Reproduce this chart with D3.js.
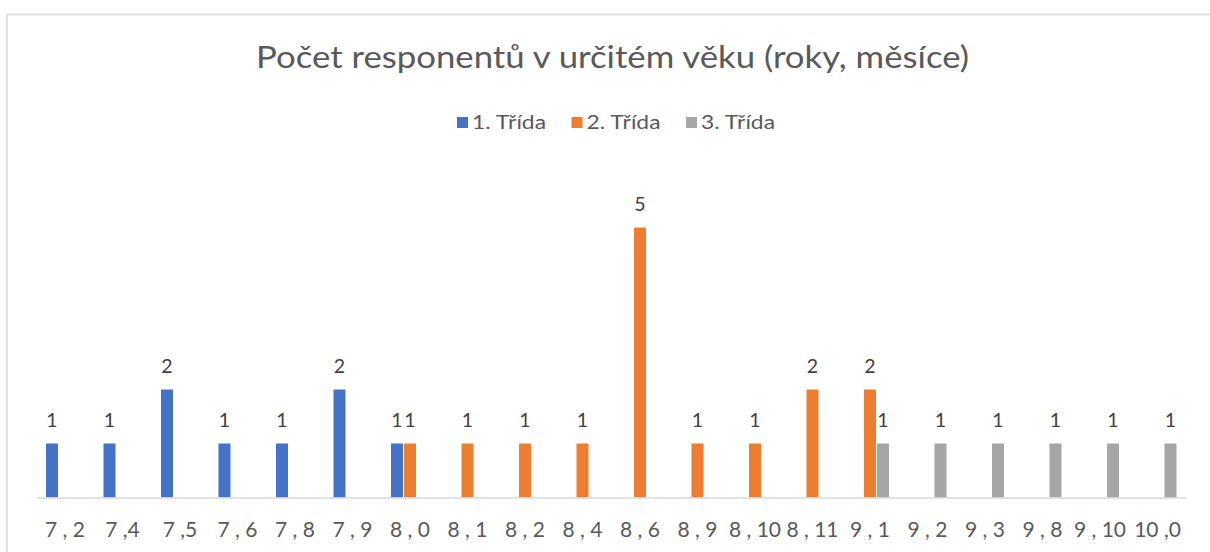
<!DOCTYPE html>
<html>
<head>
<meta charset="utf-8">
<script src="https://cdn.jsdelivr.net/npm/d3@7"></script>
<style>
  html, body { margin: 0; padding: 0; background: #fff; }
  svg { display: block; }
  text { font-family: Lato, "Open Sans", sans-serif; }
</style>
</head>
<body>
<svg id="chart" width="1210" height="552"></svg>
<script>
const title = "Počet responentů v určitém věku (roky, měsíce)";
const categories = ["7 , 2", "7 ,4", "7 ,5", "7 , 6", "7 , 8", "7 , 9", "8 , 0", "8 , 1", "8 , 2", "8 , 4",
                    "8 , 6", "8 , 9", "8 , 10", "8 , 11", "9 , 1", "9 , 2", "9 , 3", "9 , 8", "9 , 10", "10 ,0"];
const seriesNames = ["1. Třída", "2. Třída", "3. Třída"];
const seriesColors = ["#4472C4", "#ED7D31", "#A5A5A5"];
const trida1 = [1, 1, 2, 1, 1, 2, 1, null, null, null, null, null, null, null, null, null, null, null, null, null];
const trida2 = [null, null, null, null, null, null, 1, 1, 1, 1, 5, 1, 1, 2, 2, null, null, null, null, null];
const trida3 = [null, null, null, null, null, null, null, null, null, null, null, null, null, null, 1, 1, 1, 1, 1, 1];
const yDomain = [0, 6];

const seriesValues = [trida1, trida2, trida3];

const svg = d3.select("#chart");

// chart border
svg.append("rect")
  .attr("x", 7).attr("y", 14.5).attr("width", 1400).attr("height", 700)
  .attr("fill", "#fff").attr("stroke", "#d9d9d9").attr("stroke-width", 1.5);

function fit(sel, target) {
  sel.each(function () {
    const w = this.getComputedTextLength();
    if (w > 0) d3.select(this).attr("textLength", target).attr("lengthAdjust", "spacingAndGlyphs");
  });
}

// title
svg.append("text")
  .attr("x", 612.5).attr("y", 68.3)
  .attr("text-anchor", "middle")
  .attr("font-size", 30)
  .attr("fill", "#595959")
  .text(title)
  .call(fit, 713);

// scales
const x = d3.scaleBand().domain(categories).range([36.25, 1186.25]).padding(0);
const xs = d3.scaleBand().domain(seriesNames).range([-19.5, 19.5]).padding(0);
const y = d3.scaleLinear().domain(yDomain).range([497.5, 173.5]);

// legend
const legend = svg.append("g");
const legendX = d3.scalePoint().domain(seriesNames).range([457, 686]);
seriesNames.forEach((name, i) => {
  const g = legend.append("g").attr("transform", `translate(${legendX(name)},0)`);
  g.append("rect").attr("x", 0).attr("y", 117).attr("width", 11).attr("height", 11)
    .attr("fill", seriesColors[i]);
  g.append("text").attr("x", 15).attr("y", 129)
    .attr("font-size", 19.5).attr("fill", "#595959")
    .text(name).call(fit, 74);
});

// bars
const bw = xs.bandwidth() - 1;
seriesValues.forEach((vals, si) => {
  const data = categories.map((c, i) => ({ c, v: vals[i] })).filter(d => d.v != null);
  const g = svg.append("g");
  g.selectAll("rect").data(data).enter().append("rect")
    .attr("x", d => x(d.c) + x.bandwidth() / 2 + xs(seriesNames[si]) + 0.5)
    .attr("y", d => y(d.v))
    .attr("width", bw)
    .attr("height", d => y(0) - y(d.v))
    .attr("fill", seriesColors[si]);
  g.selectAll("text").data(data).enter().append("text")
    .attr("x", d => x(d.c) + x.bandwidth() / 2 + xs(seriesNames[si]) + xs.bandwidth() / 2)
    .attr("y", d => y(d.v) - 17)
    .attr("text-anchor", "middle")
    .attr("font-size", 19.5)
    .attr("fill", "#404040")
    .text(d => d.v);
});

// x axis
const xAxis = svg.append("g")
  .attr("transform", `translate(0,${y(0)})`)
  .call(d3.axisBottom(x).tickSize(0).tickPadding(0));
xAxis.select(".domain").attr("stroke", "#d9d9d9").attr("stroke-width", 1.5);
xAxis.selectAll(".tick text")
  .attr("dy", null)
  .attr("y", 39)
  .attr("font-size", 21)
  .attr("font-family", "Lato, 'Open Sans', sans-serif")
  .attr("fill", "#595959");
</script>
</body>
</html>
